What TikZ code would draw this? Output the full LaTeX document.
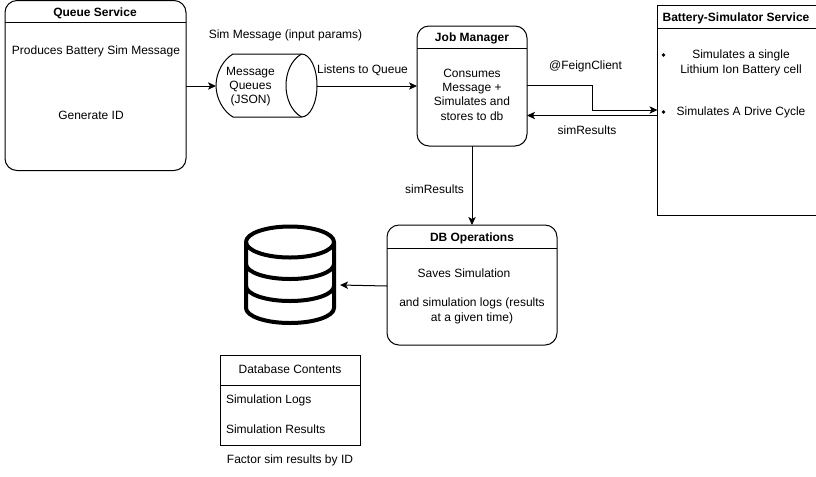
\documentclass[tikz,border=0pt]{standalone}
\usepackage{fontspec}
\setmainfont{Liberation Sans}
\usetikzlibrary{arrows.meta}
\tikzset{
  x=0.75pt,y=-0.75pt,
  every node/.style={font=\fontsize{9}{10.8}\selectfont,inner sep=0pt,outer sep=0pt},
  panel/.style={draw,line width=0.75pt,anchor=north west,rounded corners=#1},
  panel/.default=0pt,
  lbl/.style={align=center,yshift=-0.8pt},
  ttl/.style={align=center,yshift=-0.8pt,font=\fontsize{9}{10.8}\selectfont\bfseries},
  lft/.style={anchor=west,yshift=-0.8pt},
  conn/.style={line width=0.75pt,-{Stealth[length=6pt,width=5.5pt,inset=1.5pt]}},
  rule/.style={line width=0.75pt},
  dbline/.style={line width=3pt,line join=round}
}
\begin{document}
\begin{tikzpicture}
\useasboundingbox (0,0) rectangle (816,476);
\fill[white] (0,0) rectangle (816,476);
% panels
\node[panel=9pt,minimum width=135.75pt,minimum height=127.5pt] (qs) at (5,0.5) {};
\node[panel=9pt,minimum width=82.5pt,minimum height=90pt] (job) at (417,26) {};
\node[panel=9pt,minimum width=127.5pt,minimum height=90pt] (dbo) at (387,225) {};
\node[panel,minimum width=119.25pt,minimum height=157.5pt] (bat) at (657.5,5) {};
\node[panel,minimum width=105pt,minimum height=67.5pt] (dbc) at (220,355) {};
% header rules
\draw[rule] (5,22) -- (186,22);
\draw[rule] (417,48) -- (527,48);
\draw[rule] (387,248) -- (557,248);
\draw[rule] (657.5,28) -- (816,28);
\draw[rule] (220,385) -- (360,385);
% titles
\node[ttl] (qst) at (95,12) {Queue Service};
\node[ttl] (jobt) at (472,37) {Job Manager};
\node[ttl] (dbot) at (472,237) {DB Operations};
\node[ttl] (batt) at (736,17) {Battery-Simulator Service};
\node[lbl] (dbct) at (290,368.5) {Database Contents};
% body text
\node[lbl] (qs1) at (96,50) {Produces Battery Sim Message};
\node[lbl] (qs2) at (91,114.5) {Generate ID};
\node[lbl] (job1) at (472,93.5) {Consumes\\Message +\\Simulates and\\stores to db};
\node[lbl] (dbo1) at (464,272.5) {Saves Simulation};
\node[lbl] (dbo2) at (472,310) {and simulation logs (results\\at a given time)};
\node[lbl] (bat1) at (741,62) {Simulates a single\\Lithium Ion Battery cell};
\node[lbl] (bat2) at (741,111) {Simulates A Drive Cycle};
\fill (663.5,55) circle (1.4pt);
\fill (663.5,112) circle (1.4pt);
\node[lft] (dbc1) at (226,399) {Simulation Logs};
\node[lft] (dbc2) at (226,428.5) {Simulation Results};
\node[lbl] (fac) at (290,459) {Factor sim results by ID};
% cylinder
\draw[rule] (233,54) -- (301.5,54)
  .. controls +(8.6,0) and +(0,-17.4) .. (317,85.5)
  .. controls +(0,17.4) and +(8.6,0) .. (301.5,117) -- (233,117)
  .. controls (224,112) and (216,99) .. (216,85.5)
  .. controls (216,72) and (224,59) .. (233,54) -- cycle;
\draw[rule] (301.5,54) .. controls (291,60) and (286,73) .. (286,85.5)
  .. controls (286,98) and (291,111) .. (301.5,117);
\coordinate (mqin) at (216,86);
\coordinate (mqout) at (317,86);
\node[lbl] (mq) at (250.5,85.5) {Message\\Queues\\(JSON)};
% database icon
\draw[dbline] (246,242) .. controls +(0,-8.6) and +(-24.3,0) .. (290,226.5)
  .. controls +(24.3,0) and +(0,-8.6) .. (334,242)
  .. controls +(0,8.6) and +(24.3,0) .. (290,257.5)
  .. controls +(-24.3,0) and +(0,8.6) .. (246,242) -- cycle;
\draw[dbline] (246,242) -- (246,308) .. controls +(0,8.3) and +(-24.3,0) .. ++(44,15)
  .. controls +(24.3,0) and +(0,8.3) .. ++(44,-15) -- (334,242);
\draw[dbline] (246,264) .. controls +(0,8.3) and +(-24.3,0) .. ++(44,15)
  .. controls +(24.3,0) and +(0,8.3) .. ++(44,-15);
\draw[dbline] (246,286) .. controls +(0,8.3) and +(-24.3,0) .. ++(44,15)
  .. controls +(24.3,0) and +(0,8.3) .. ++(44,-15);
\coordinate (dbicon) at (340,285);
% connector labels
\node[lbl] (l1) at (285.5,34) {Sim Message (input params)};
\node[lbl] (l2) at (362.5,69.5) {Listens to Queue};
\node[lbl] (l3) at (585.5,65) {@FeignClient};
\node[lbl] (l4) at (587,129) {simResults};
\node[lbl] (l5) at (434.5,188.5) {simResults};
% connectors
\draw[conn] (qs.east |- mqin) -- (mqin);
\draw[conn] (mqout) -- (job.west |- mqout);
\coordinate (f1) at (592,85);
\coordinate (f2) at (592,110);
\draw[conn] (job.east |- f1) -- (f1) -- (f2) -- (bat.west |- f2);
\coordinate (r1) at (592,115.5);
\draw[conn] (bat.west |- r1) -- (job.east |- r1);
\draw[conn] (job.south) -- (dbo.north);
\draw[conn] (dbo.west |- 387,286) -- (dbicon);
\end{tikzpicture}
\end{document}
